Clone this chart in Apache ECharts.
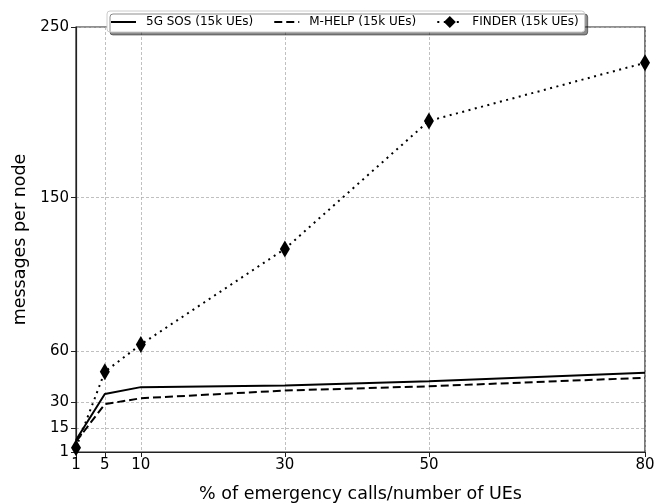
<!DOCTYPE html>
<html>
<head>
<meta charset="utf-8">
<script src="https://cdn.jsdelivr.net/npm/echarts@6/dist/echarts.min.js"></script>
<style>html,body{margin:0;padding:0;background:#fff}#c{width:654px;height:504px}</style>
</head>
<body>
<div id="c"></div>
<script>
const xValues = [1, 5, 10, 30, 50, 80];
const sos = [8, 35, 39, 40, 42.5, 47.5];
const mhelp = [7, 29, 32.5, 37, 39.5, 44.5];
const finder = [3.5, 48, 64, 120, 195, 229];
const xTicks = [1, 5, 10, 30, 50, 80];
const yTicks = [1, 15, 30, 60, 150, 250];
const seriesNames = ['5G SOS (15k UEs)', 'M-HELP (15k UEs)', 'FINDER (15k UEs)'];

const font = 'DejaVu Sans';
const pair = arr => xValues.map((x, i) => [x, arr[i]]);
const chart = echarts.init(document.getElementById('c'), null, {renderer: 'canvas'});
const gridLine = {show: true, lineStyle: {color: '#b0b0b0', type: [3, 2], width: 0.8}};
chart.setOption({
  animation: false,
  backgroundColor: '#fff',
  grid: {left: 76, right: 9, top: 27, bottom: 52, outerBoundsMode: 'none', containLabel: false,
         show: true, borderColor: '#222', borderWidth: 1.2, backgroundColor: 'transparent'},
  legend: {
    left: 107, top: 11,
    itemWidth: 25, itemHeight: 15, itemGap: 20,
    padding: [5, 6, 4, 3],
    backgroundColor: '#fff', borderColor: '#ccc', borderWidth: 1, borderRadius: 3,
    shadowColor: 'rgba(0,0,0,0.45)', shadowOffsetX: 3, shadowOffsetY: 3, shadowBlur: 0,
    lineStyle: {width: 2},
    textStyle: {fontFamily: font, fontSize: 12, color: '#000', padding: [0, 0, 0, 5]},
    data: [
      {name: seriesNames[0], itemStyle: {opacity: 0}},
      {name: seriesNames[1], itemStyle: {opacity: 0}},
      {name: seriesNames[2]}
    ]
  },
  xAxis: {
    type: 'value', min: 1, max: 80,
    name: '% of emergency calls/number of UEs', nameLocation: 'middle', nameGap: 33,
    nameTextStyle: {fontFamily: font, fontSize: 17.5, color: '#000'},
    axisLine: {show: true, onZero: false, lineStyle: {color: '#222', width: 1.2}},
    axisTick: {show: true, customValues: xTicks, length: 5, lineStyle: {color: '#222'}},
    axisLabel: {customValues: xTicks, fontFamily: font, fontSize: 15, color: '#000', margin: 6},
    splitLine: gridLine
  },
  yAxis: {
    type: 'value', min: 1, max: 250,
    name: 'messages per node', nameLocation: 'middle', nameGap: 46,
    nameTextStyle: {fontFamily: font, fontSize: 17.5, color: '#000'},
    axisLine: {show: true, onZero: false, lineStyle: {color: '#222', width: 1.2}},
    axisTick: {show: true, customValues: yTicks, length: 5, lineStyle: {color: '#222'}},
    axisLabel: {customValues: yTicks, fontFamily: font, fontSize: 15, color: '#000', margin: 7},
    splitLine: gridLine
  },
  series: [
    {name: seriesNames[0], type: 'line', data: pair(sos), symbol: 'none', clip: false,
     itemStyle: {color: '#000'}, lineStyle: {color: '#000', width: 2, type: 'solid'}},
    {name: seriesNames[1], type: 'line', data: pair(mhelp), symbol: 'none', clip: false,
     itemStyle: {color: '#000'}, lineStyle: {color: '#000', width: 2, type: [8, 4]}},
    {name: seriesNames[2], type: 'line', data: pair(finder), symbol: 'diamond', symbolSize: [10, 17], clip: false,
     itemStyle: {color: '#000'}, lineStyle: {color: '#000', width: 2, type: [2, 4.5]}}
  ]
});
</script>
</body>
</html>
